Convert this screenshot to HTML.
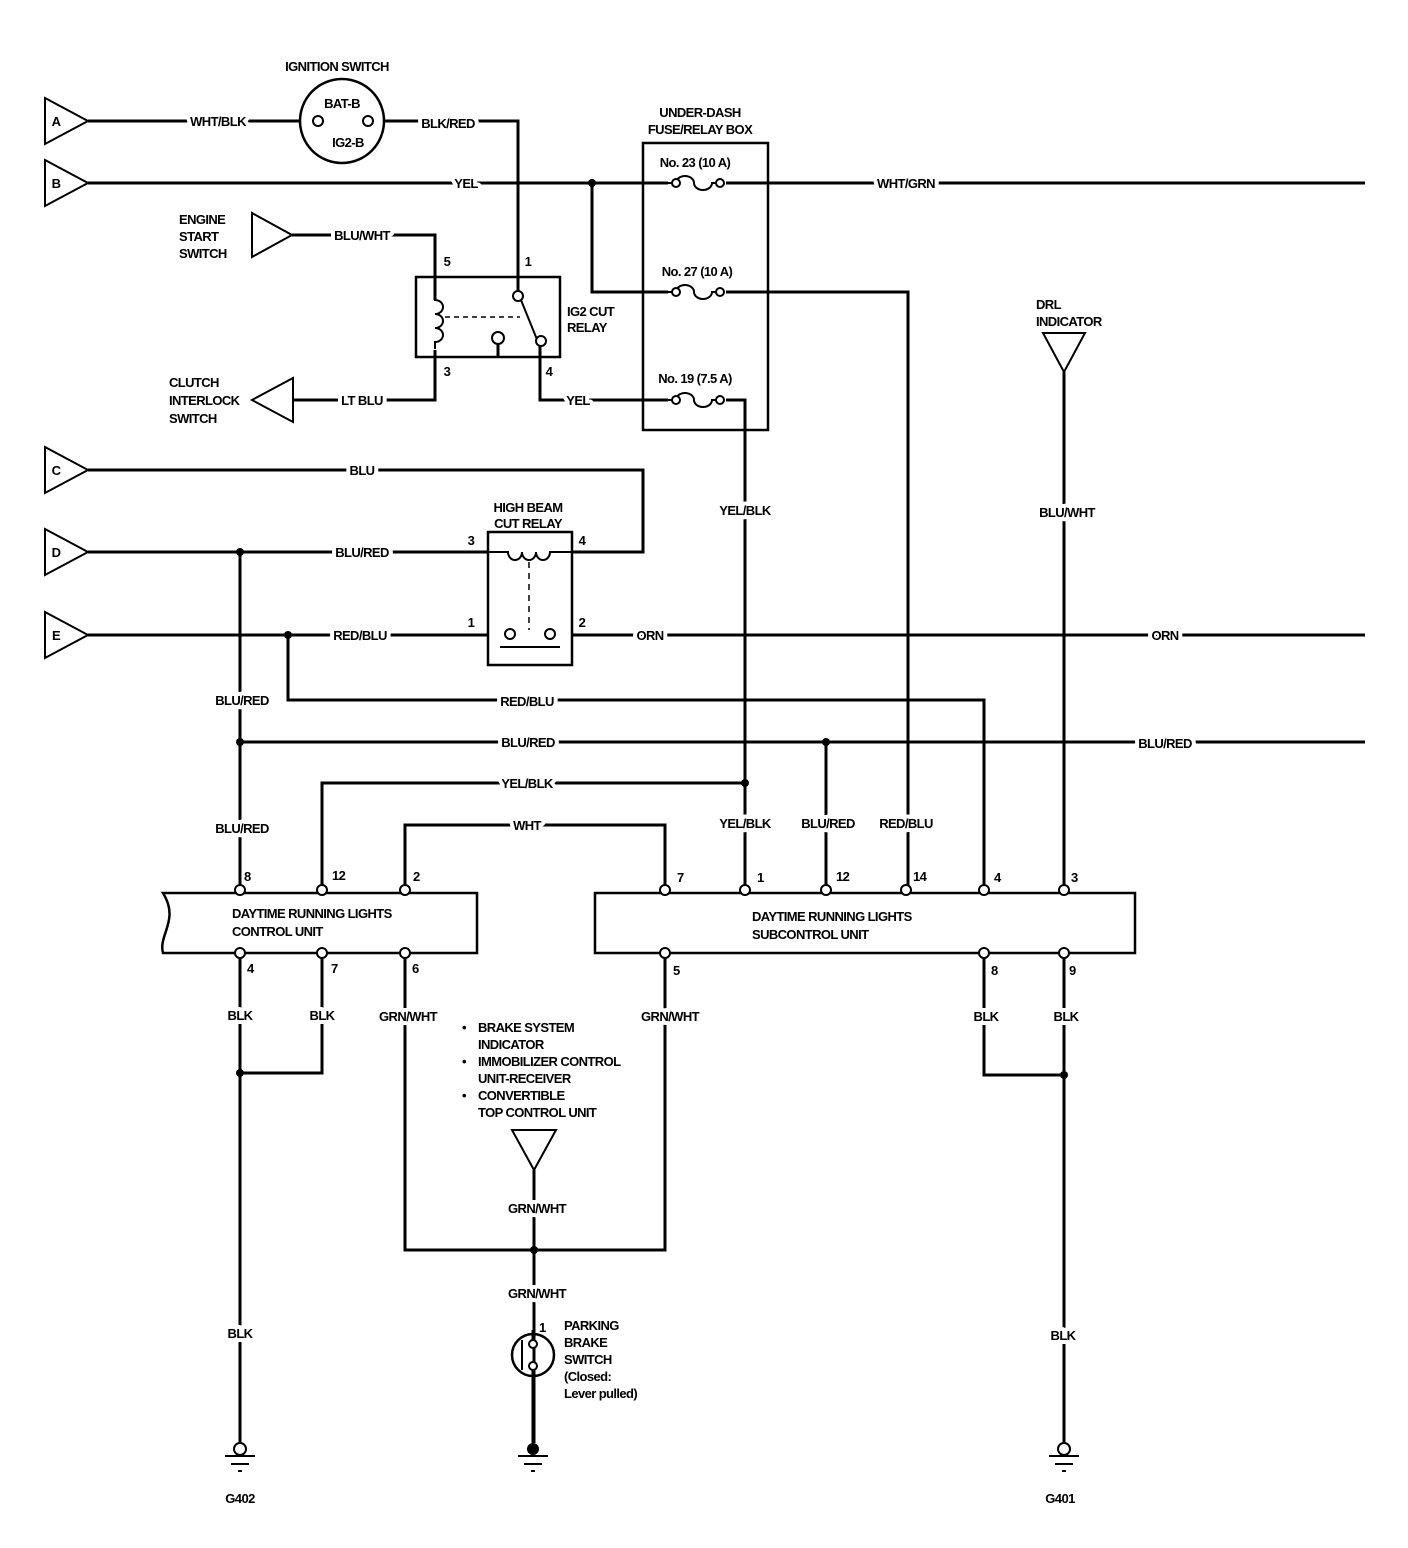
<!DOCTYPE html>
<html><head><meta charset="utf-8"><style>
html,body{margin:0;padding:0;background:#fff}
svg{display:block}
text{font-family:"Liberation Sans",sans-serif;font-weight:bold;font-size:13px;fill:#000;letter-spacing:-0.6px}
.l{paint-order:stroke;stroke:#fff;stroke-width:8px;stroke-linejoin:round}
.w{fill:none;stroke:#000;stroke-width:3}
.t{fill:none;stroke:#000;stroke-width:2}
.p{fill:#fff;stroke:#000;stroke-width:2}
</style></head><body>
<svg width="1408" height="1548" viewBox="0 0 1408 1548" xmlns="http://www.w3.org/2000/svg">
<!-- connectors -->
<g class="t">
<polygon points="45,98 88,121 45,144"/>
<polygon points="45,160 88,183 45,206"/>
<polygon points="45,447 88,470 45,493"/>
<polygon points="45,529 88,552 45,575"/>
<polygon points="45,612 88,635 45,658"/>
<polygon points="252,213 292,235 252,257"/>
<polygon points="293,378 252,400 293,422"/>
<polygon points="1043,333 1085,333 1064,372"/>
<polygon points="512,1130 556,1130 534,1170"/>
</g>
<g text-anchor="middle" font-size="13">
<text x="56" y="126">A</text><text x="56" y="188">B</text><text x="56" y="475">C</text><text x="56" y="557">D</text><text x="56" y="640">E</text>
</g>
<!-- wires -->
<g class="w">
<path d="M88,121H300"/>
<path d="M384,121H518V295"/>
<path d="M88,183H1365"/>
<path d="M592,183V292H672M722,292H908V890"/>
<path d="M292,235H435V300"/>
<path d="M435,350V400H293"/>
<path d="M540,345V400H672M722,400H745V890"/>
<path d="M88,470H643V552H572"/>
<path d="M88,552H488"/>
<path d="M88,635H488M572,635H1365"/>
<path d="M288,635V700H984V890"/>
<path d="M240,552V890"/>
<path d="M240,742H1365"/>
<path d="M826,742V890"/>
<path d="M322,890V783H745"/>
<path d="M405,890V825H665V890"/>
<path d="M1064,372V890"/>
<path d="M240,953V1445"/>
<path d="M322,953V1073H240"/>
<path d="M405,953V1250H665V953"/>
<path d="M534,1170V1443"/>
<path d="M984,953V1075H1064"/>
<path d="M1064,953V1445"/>
</g>
<!-- junction dots -->
<g fill="#000">
<circle cx="592" cy="183" r="4"/><circle cx="240" cy="552" r="4"/><circle cx="288" cy="635" r="4"/>
<circle cx="240" cy="742" r="4"/><circle cx="826" cy="742" r="4"/><circle cx="745" cy="783" r="4"/>
<circle cx="240" cy="1073" r="4"/><circle cx="534" cy="1250" r="4"/><circle cx="1064" cy="1075" r="4"/>
</g>
<!-- ignition switch -->
<circle cx="342" cy="121" r="42" class="t" style="stroke-width:2.5"/>
<circle cx="318" cy="121" r="5" class="p"/><circle cx="368" cy="121" r="5" class="p"/>
<text x="337" y="71" text-anchor="middle">IGNITION SWITCH</text>
<text x="342" y="108" text-anchor="middle">BAT-B</text>
<text x="348" y="147" text-anchor="middle">IG2-B</text>
<!-- fuse box -->
<rect x="643" y="143" width="125" height="287" class="t" style="stroke-width:2.5"/>
<rect x="668" y="176" width="58" height="14" fill="#fff"/>
<rect x="668" y="285" width="58" height="14" fill="#fff"/>
<rect x="668" y="393" width="58" height="14" fill="#fff"/>
<g class="t">
<path d="M668,183h8a9,7 0 0 1 18,0a9,7 0 0 0 18,0h10"/>
<path d="M668,292h8a9,7 0 0 1 18,0a9,7 0 0 0 18,0h10"/>
<path d="M668,400h8a9,7 0 0 1 18,0a9,7 0 0 0 18,0h10"/>
</g>
<circle cx="676" cy="183" r="4" class="p"/><circle cx="720" cy="183" r="4" class="p"/>
<circle cx="676" cy="292" r="4" class="p"/><circle cx="720" cy="292" r="4" class="p"/>
<circle cx="676" cy="400" r="4" class="p"/><circle cx="720" cy="400" r="4" class="p"/>
<text x="700" y="117" text-anchor="middle">UNDER-DASH</text>
<text x="700" y="134" text-anchor="middle">FUSE/RELAY BOX</text>
<text x="695" y="167" text-anchor="middle">No. 23 (10 A)</text>
<text x="697" y="276" text-anchor="middle">No. 27 (10 A)</text>
<text x="695" y="383" text-anchor="middle">No. 19 (7.5 A)</text>
<!-- IG2 cut relay -->
<rect x="416" y="277" width="144" height="80" class="t" style="stroke-width:2.5"/>
<path class="t" d="M435,295v5a8,7 0 0 1 0,14a8,7 0 0 1 0,14a8,7 0 0 1 0,14v7"/>
<path d="M445,317H520" stroke="#000" stroke-width="1.5" stroke-dasharray="5,4"/>
<path class="t" d="M521,300L538,342"/>
<circle cx="518" cy="296" r="5" class="p"/>
<circle cx="541" cy="341" r="5" class="p"/>
<circle cx="498" cy="338" r="6" class="p"/><path d="M498,344V357" class="w"/>
<text x="447" y="266" text-anchor="middle">5</text><text x="528" y="266" text-anchor="middle">1</text>
<text x="447" y="376" text-anchor="middle">3</text><text x="549" y="376" text-anchor="middle">4</text>
<text x="567" y="316">IG2 CUT</text><text x="567" y="332">RELAY</text>
<!-- high beam relay -->
<rect x="488" y="532" width="84" height="133" class="t" style="stroke-width:2.5"/>
<path class="t" d="M488,552h20a7,8 0 0 0 14,0a7,8 0 0 0 14,0a7,8 0 0 0 14,0h22"/>
<path d="M529,562V630" stroke="#000" stroke-width="1.5" stroke-dasharray="6,5"/>
<circle cx="510" cy="634" r="5" class="p"/><circle cx="550" cy="634" r="5" class="p"/>
<path d="M500,647H560" stroke="#000" stroke-width="2"/>
<text x="528" y="512" text-anchor="middle">HIGH BEAM</text>
<text x="528" y="528" text-anchor="middle">CUT RELAY</text>
<text x="471" y="545" text-anchor="middle">3</text><text x="582" y="545" text-anchor="middle">4</text>
<text x="471" y="627" text-anchor="middle">1</text><text x="582" y="627" text-anchor="middle">2</text>
<!-- side labels -->
<text x="179" y="224">ENGINE</text><text x="179" y="241">START</text><text x="179" y="258">SWITCH</text>
<text x="169" y="387">CLUTCH</text><text x="169" y="405">INTERLOCK</text><text x="169" y="423">SWITCH</text>
<text x="1036" y="309">DRL</text><text x="1036" y="326">INDICATOR</text>
<!-- wire labels -->
<g text-anchor="middle">
<text class="l" x="218" y="126">WHT/BLK</text>
<text class="l" x="448" y="128">BLK/RED</text>
<text class="l" x="466" y="188">YEL</text>
<text class="l" x="906" y="188">WHT/GRN</text>
<text class="l" x="362" y="240">BLU/WHT</text>
<text class="l" x="362" y="405">LT BLU</text>
<text class="l" x="578" y="405">YEL</text>
<text class="l" x="362" y="475">BLU</text>
<text class="l" x="362" y="557">BLU/RED</text>
<text class="l" x="360" y="640">RED/BLU</text>
<text class="l" x="650" y="640">ORN</text>
<text class="l" x="1165" y="640">ORN</text>
<text class="l" x="745" y="515">YEL/BLK</text>
<text class="l" x="1067" y="517">BLU/WHT</text>
<text class="l" x="242" y="705">BLU/RED</text>
<text class="l" x="527" y="706">RED/BLU</text>
<text class="l" x="528" y="747">BLU/RED</text>
<text class="l" x="1165" y="748">BLU/RED</text>
<text class="l" x="527" y="788">YEL/BLK</text>
<text class="l" x="527" y="830">WHT</text>
<text class="l" x="242" y="833">BLU/RED</text>
<text class="l" x="745" y="828">YEL/BLK</text>
<text class="l" x="828" y="828">BLU/RED</text>
<text class="l" x="906" y="828">RED/BLU</text>
<text class="l" x="240" y="1020">BLK</text>
<text class="l" x="322" y="1020">BLK</text>
<text class="l" x="408" y="1021">GRN/WHT</text>
<text class="l" x="670" y="1021">GRN/WHT</text>
<text class="l" x="986" y="1021">BLK</text>
<text class="l" x="1066" y="1021">BLK</text>
<text class="l" x="537" y="1213">GRN/WHT</text>
<text class="l" x="537" y="1298">GRN/WHT</text>
<text class="l" x="240" y="1338">BLK</text>
<text class="l" x="1063" y="1340">BLK</text>
</g>
<!-- control unit -->
<path class="t" style="stroke-width:2.5" d="M163,893H477V953H163C158,935 180,920 163,893Z" fill="#fff"/>
<text x="232" y="918">DAYTIME RUNNING LIGHTS</text>
<text x="232" y="936">CONTROL UNIT</text>
<rect x="595" y="893" width="540" height="60" class="t" style="stroke-width:2.5"/>
<text x="752" y="921">DAYTIME RUNNING LIGHTS</text>
<text x="752" y="939">SUBCONTROL UNIT</text>
<g>
<circle cx="240" cy="890" r="5" class="p"/><circle cx="322" cy="890" r="5" class="p"/><circle cx="405" cy="890" r="5" class="p"/>
<circle cx="240" cy="953" r="5" class="p"/><circle cx="322" cy="953" r="5" class="p"/><circle cx="405" cy="953" r="5" class="p"/>
<circle cx="665" cy="890" r="5" class="p"/><circle cx="745" cy="890" r="5" class="p"/><circle cx="826" cy="890" r="5" class="p"/>
<circle cx="906" cy="890" r="5" class="p"/><circle cx="984" cy="890" r="5" class="p"/><circle cx="1064" cy="890" r="5" class="p"/>
<circle cx="665" cy="953" r="5" class="p"/><circle cx="984" cy="953" r="5" class="p"/><circle cx="1064" cy="953" r="5" class="p"/>
</g>
<g>
<text x="244" y="881">8</text><text x="332" y="880">12</text><text x="413" y="881">2</text>
<text x="247" y="973">4</text><text x="331" y="973">7</text><text x="412" y="973">6</text>
<text x="677" y="882">7</text><text x="757" y="882">1</text><text x="836" y="881">12</text>
<text x="913" y="881">14</text><text x="994" y="882">4</text><text x="1071" y="882">3</text>
<text x="673" y="975">5</text><text x="991" y="975">8</text><text x="1069" y="975">9</text>
</g>
<!-- bullet list -->
<g>
<text x="462" y="1032">•</text><text x="478" y="1032">BRAKE SYSTEM</text>
<text x="478" y="1049">INDICATOR</text>
<text x="462" y="1066">•</text><text x="478" y="1066">IMMOBILIZER  CONTROL</text>
<text x="478" y="1083">UNIT-RECEIVER</text>
<text x="462" y="1100">•</text><text x="478" y="1100">CONVERTIBLE</text>
<text x="478" y="1117">TOP CONTROL  UNIT</text>
</g>
<!-- parking brake switch -->
<circle cx="533" cy="1355" r="21" class="t" style="stroke-width:2.5" fill="#fff"/>
<path d="M522,1340V1370" stroke="#000" stroke-width="2"/>
<path d="M533,1330V1343M533,1367V1443" class="w"/>
<circle cx="533" cy="1344" r="4" class="p"/><circle cx="533" cy="1366" r="4" class="p"/>
<text x="539" y="1332">1</text>
<text x="564" y="1330">PARKING</text><text x="564" y="1347">BRAKE</text><text x="564" y="1364">SWITCH</text>
<text x="564" y="1381">(Closed:</text><text x="564" y="1398">Lever pulled)</text>
<!-- grounds -->
<circle cx="533" cy="1449" r="6" fill="#000"/>
<path d="M518,1456H548M524,1464H542M531,1471H535" stroke="#000" stroke-width="2"/>
<circle cx="240" cy="1449" r="6" class="p"/>
<path d="M225,1456H255M231,1464H249M238,1471H242" stroke="#000" stroke-width="2"/>
<circle cx="1064" cy="1449" r="6" class="p"/>
<path d="M1049,1456H1079M1055,1464H1073M1062,1471H1066" stroke="#000" stroke-width="2"/>
<text x="240" y="1503" text-anchor="middle">G402</text>
<text x="1060" y="1503" text-anchor="middle">G401</text>
</svg>
</body></html>
